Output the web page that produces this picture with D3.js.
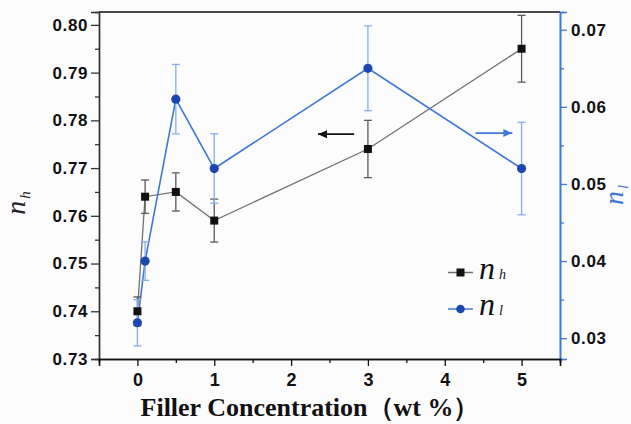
<!DOCTYPE html>
<html>
<head>
<meta charset="utf-8">
<script src="https://cdn.jsdelivr.net/npm/d3@7/dist/d3.min.js"></script>
<style>
  html, body { margin: 0; padding: 0; background: #fdfcfd; }
  svg { display: block; }
</style>
</head>
<body>
<svg id="chart" width="631" height="424"></svg>
<script>
// ---- data ----
const conc = [0, 0.1, 0.5, 1, 3, 5];
const nh = [0.740, 0.764, 0.765, 0.759, 0.774, 0.795];
const nhErr = [0.003, 0.0035, 0.004, 0.0045, 0.006, 0.007];
const nl = [0.032, 0.040, 0.061, 0.052, 0.065, 0.052];
const nlErr = [0.003, 0.0025, 0.0045, 0.0045, 0.0055, 0.006];
const xTicks = [0, 1, 2, 3, 4, 5];
const xMinor = [0.5, 1.5, 2.5, 3.5, 4.5];
const yLeftTicks = [0.73, 0.74, 0.75, 0.76, 0.77, 0.78, 0.79, 0.80];
const yLeftMinor = [0.735, 0.745, 0.755, 0.765, 0.775, 0.785, 0.795];
const yRightTicks = [0.03, 0.04, 0.05, 0.06, 0.07];
const yRightMinor = [0.035, 0.045, 0.055, 0.065];
const xTitle = "Filler Concentration（wt %）";

const svg = d3.select("#chart");
const L = 99, R = 560, T = 12, B = 359;

const x = d3.scaleLinear().domain([-0.5, 5.5]).range([L, R]);
const yL = d3.scaleLinear().domain([0.73, 0.8027]).range([B, T]);
const yR = d3.scaleLinear().domain([0.0273, 0.0723]).range([B, T]);

const black = "#111";
const blue = "#3f78d8";
const blueDark = "#1d47b0";
const blueErr = "#86acec";
const grayLine = "#6e7070";
const grayErr = "#5a5a5a";

// top frame
svg.append("line").attr("x1", L).attr("x2", R).attr("y1", T).attr("y2", T)
  .attr("stroke", black).attr("stroke-width", 1.6);

const tickFont = "'Liberation Sans', Arial, sans-serif";

// left axis
const gL = svg.append("g").attr("transform", `translate(${L},0)`);
gL.call(d3.axisLeft(yL).tickValues(yLeftTicks).tickSize(8).tickPadding(3).tickFormat(d3.format(".2f")));
gL.append("g").call(d3.axisLeft(yL).tickValues(yLeftMinor).tickSize(4).tickFormat(""));
gL.selectAll(".domain").attr("stroke", "#333").attr("stroke-width", 1.4);
gL.selectAll("line").attr("stroke", "#333").attr("stroke-width", 1.3);
gL.selectAll("text").attr("font-family", tickFont).attr("font-weight", "bold")
  .attr("font-size", 17).attr("fill", black).attr("letter-spacing", 0.6);

// right axis
const gR = svg.append("g").attr("transform", `translate(${R},0)`);
gR.call(d3.axisRight(yR).tickValues(yRightTicks).tickSize(7).tickPadding(4).tickFormat(d3.format(".2f")));
gR.append("g").call(d3.axisRight(yR).tickValues(yRightMinor).tickSize(4).tickFormat(""));
gR.selectAll(".domain").attr("stroke", blue).attr("stroke-width", 1.6);
gR.selectAll("line").attr("stroke", blue).attr("stroke-width", 1.3);
gR.selectAll("text").attr("font-family", tickFont).attr("font-weight", "bold")
  .attr("font-size", 17).attr("fill", black).attr("letter-spacing", 0.6);

// bottom axis
const gB = svg.append("g").attr("transform", `translate(0,${B})`);
gB.call(d3.axisBottom(x).tickValues(xTicks).tickSize(7).tickPadding(7).tickFormat(d3.format("d")));
gB.append("g").call(d3.axisBottom(x).tickValues(xMinor).tickSize(4).tickFormat(""));
gB.selectAll(".domain").attr("stroke", black).attr("stroke-width", 1.6);
gB.selectAll("line").attr("stroke", black).attr("stroke-width", 1.3);
gB.selectAll("text").attr("font-family", tickFont).attr("font-weight", "bold")
  .attr("font-size", 18).attr("fill", black);

// series lines
const lineH = d3.line().x((d, i) => x(conc[i])).y(d => yL(d));
const lineLo = d3.line().x((d, i) => x(conc[i])).y(d => yR(d));

svg.append("path").datum(nh).attr("d", lineH).attr("fill", "none")
  .attr("stroke", grayLine).attr("stroke-width", 1.3);
svg.append("path").datum(nl).attr("d", lineLo).attr("fill", "none")
  .attr("stroke", blue).attr("stroke-width", 1.6);

// error bars
function errBars(vals, errs, scale, color) {
  const g = svg.append("g").attr("stroke", color).attr("stroke-width", 1.3).attr("fill", "none");
  vals.forEach((v, i) => {
    const cx = x(conc[i]);
    const y1 = scale(v + errs[i]), y2 = scale(v - errs[i]);
    g.append("line").attr("x1", cx).attr("x2", cx).attr("y1", y1).attr("y2", y2);
    g.append("line").attr("x1", cx - 4).attr("x2", cx + 4).attr("y1", y1).attr("y2", y1);
    g.append("line").attr("x1", cx - 4).attr("x2", cx + 4).attr("y1", y2).attr("y2", y2);
  });
}
errBars(nh, nhErr, yL, grayErr);
errBars(nl, nlErr, yR, blueErr);

// markers
svg.append("g").selectAll("rect").data(nh).join("rect")
  .attr("x", (d, i) => x(conc[i]) - 4).attr("y", d => yL(d) - 4)
  .attr("width", 8).attr("height", 8).attr("fill", black);
svg.append("g").selectAll("circle").data(nl).join("circle")
  .attr("cx", (d, i) => x(conc[i])).attr("cy", d => yR(d)).attr("r", 4.6)
  .attr("fill", blueDark);

// arrows
function arrow(x1, x2, y, color, dir) {
  svg.append("line").attr("x1", x1).attr("x2", x2).attr("y1", y).attr("y2", y)
    .attr("stroke", color).attr("stroke-width", 1.8);
  const tip = dir < 0 ? x1 : x2;
  svg.append("path")
    .attr("d", `M${tip},${y} L${tip - dir * 9},${y - 4} L${tip - dir * 9},${y + 4} Z`)
    .attr("fill", color);
}
arrow(x(2.35), x(2.82), yL(0.7771), black, -1);
arrow(x(4.4), x(4.88), yR(0.0566), blue, 1);

// legend
const serif = "'Liberation Serif', 'Times New Roman', serif";
function legendItem(yPos, sub, kind) {
  const g = svg.append("g");
  g.append("line").attr("x1", 448).attr("x2", 473).attr("y1", yPos).attr("y2", yPos)
    .attr("stroke", kind === "sq" ? grayLine : blue).attr("stroke-width", 1.5);
  if (kind === "sq") {
    g.append("rect").attr("x", 456.5).attr("y", yPos - 4).attr("width", 8).attr("height", 8).attr("fill", black);
  } else {
    g.append("circle").attr("cx", 460.5).attr("cy", yPos).attr("r", 4.3).attr("fill", blueDark);
  }
  const t = g.append("text").attr("x", 479).attr("y", yPos + 6)
    .attr("font-family", serif).attr("font-style", "italic").attr("fill", black);
  t.append("tspan").attr("font-size", 32).text("n");
  t.append("tspan").attr("font-size", 14).attr("dx", 4).text(sub);
}
legendItem(272.5, "h", "sq");
legendItem(309, "l", "ci");

// y titles
const tl = svg.append("text").attr("transform", "translate(25,203) rotate(-90)")
  .attr("font-family", serif).attr("font-style", "italic").attr("fill", "#222").attr("text-anchor", "middle");
tl.append("tspan").attr("font-size", 28).text("n");
tl.append("tspan").attr("font-size", 15).attr("dx", 2).attr("dy", 5).text("h");

const tr = svg.append("text").attr("transform", "translate(623,195) rotate(-90)")
  .attr("font-family", serif).attr("font-style", "italic").attr("fill", blue).attr("text-anchor", "middle");
tr.append("tspan").attr("font-size", 28).text("n");
tr.append("tspan").attr("font-size", 15).attr("dx", 2).attr("dy", 5).text("l");

// x title
svg.append("text").attr("x", 310).attr("y", 416).attr("text-anchor", "middle")
  .attr("font-family", serif).attr("font-weight", "bold").attr("font-size", 26)
  .attr("fill", black).text(xTitle);
</script>
</body>
</html>
